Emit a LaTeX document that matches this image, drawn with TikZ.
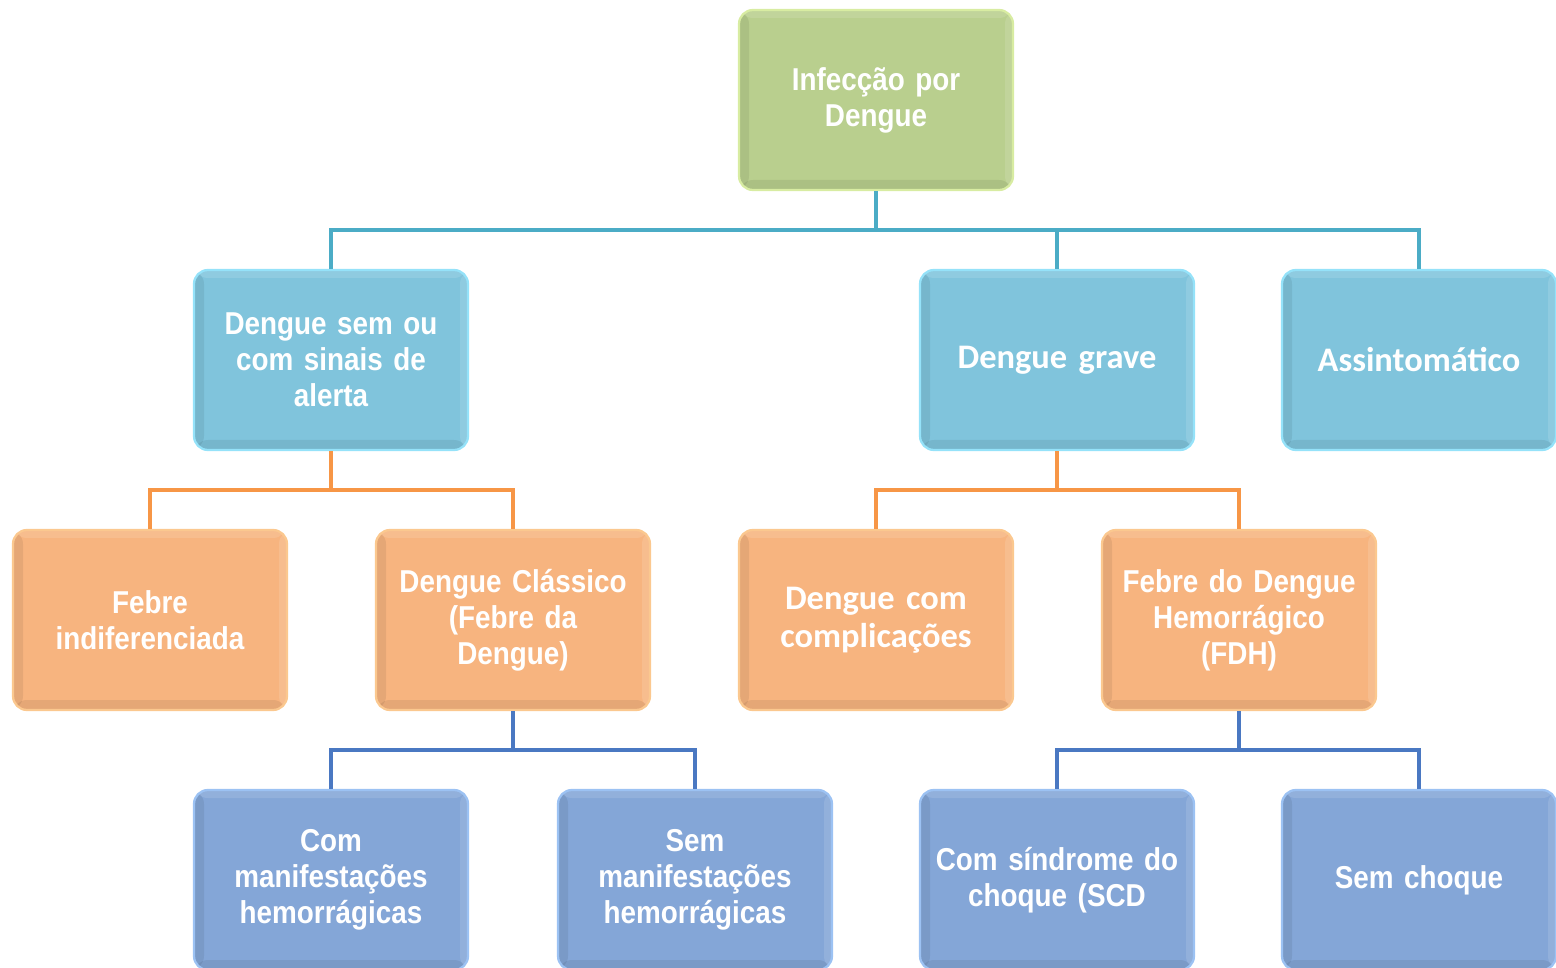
\documentclass[tikz,border=0pt]{standalone}
\usepackage{fontspec}
\newfontfamily\narrowfont[FakeStretch=0.88]{Liberation Sans Bold}
\newfontfamily\calfont{Carlito Bold}
\usepackage{xcolor}
\definecolor{DengueGreen}{HTML}{B9CF8E}
\definecolor{DengueGreenEdge}{HTML}{D8ECA2}
\definecolor{DengueSky}{HTML}{80C4DC}
\definecolor{DengueSkyEdge}{HTML}{95E2F9}
\definecolor{DengueOrange}{HTML}{F7B47F}
\definecolor{DengueOrangeEdge}{HTML}{FBC88F}
\definecolor{DengueBlue}{HTML}{84A6D7}
\definecolor{DengueBlueEdge}{HTML}{9CC2F3}
\definecolor{LineTeal}{HTML}{4BACC6}
\definecolor{LineOrange}{HTML}{F79646}
\definecolor{LineBlue}{HTML}{4A78C2}
\usepackage{tikz}
\usetikzlibrary{positioning}

\begin{document}
\begin{tikzpicture}[
  box/.style={rounded corners=3.5mm,line width=1.6pt,minimum width=6.85cm,minimum height=4.5cm,text width=6.4cm,align=center,text=white,font=\narrowfont\fontsize{22.5}{25.6}\selectfont,
    path picture={
      \fill[black,opacity=0.07] (path picture bounding box.south west) rectangle ([xshift=2.5mm]path picture bounding box.north west);
      \fill[black,opacity=0.07] (path picture bounding box.south west) rectangle ([yshift=2.5mm]path picture bounding box.south east);
      \fill[white,opacity=0.12] (path picture bounding box.north east) rectangle ([xshift=-2mm]path picture bounding box.south east);
      \fill[white,opacity=0.12] (path picture bounding box.north west) rectangle ([yshift=-2mm]path picture bounding box.north east);
    }},
  calbox/.style={box,font=\calfont\fontsize{24.5}{27}\selectfont},
  rootbox/.style={box,fill=DengueGreen,draw=DengueGreenEdge},
  skybox/.style={box,fill=DengueSky,draw=DengueSkyEdge},
  orangebox/.style={box,fill=DengueOrange,draw=DengueOrangeEdge},
  bluebox/.style={box,fill=DengueBlue,draw=DengueBlueEdge},
  link/.style={line width=2.8pt}
]
\useasboundingbox (0,0) rectangle (38.9,-24.2);
% nivel 0
\node[rootbox] (root) at (21.9,-2.5) {Infecção por\\Dengue};
% nivel 1
\node[skybox] (alerta) at (8.275,-9) {Dengue sem ou\\com sinais de\\alerta};
\node[skybox,calbox] (grave) at (26.425,-9) {Dengue grave};
\node[skybox,calbox] (assint) at (35.475,-9) {Assintomático};
% nivel 2
\node[orangebox] (febre) at (3.75,-15.5) {Febre\\indiferenciada};
\node[orangebox] (classico) at (12.825,-15.5) {Dengue Clássico\\(Febre da\\Dengue)};
\node[orangebox,calbox] (complic) at (21.9,-15.5) {Dengue com\\complicações};
\node[orangebox] (fdh) at (30.975,-15.5) {Febre do Dengue\\Hemorrágico\\(FDH)};
% nivel 3
\node[bluebox] (commanif) at (8.275,-22) {Com\\manifestações\\hemorrágicas};
\node[bluebox] (semmanif) at (17.375,-22) {Sem\\manifestações\\hemorrágicas};
\node[bluebox] (choque) at (26.425,-22) {Com síndrome do\\choque (SCD};
\node[bluebox] (semchoque) at (35.475,-22) {Sem choque};
% barramentos
\coordinate (rootbus) at (21.9,-5.75);
\coordinate (alertabus) at (8.275,-12.25);
\coordinate (gravebus) at (26.425,-12.25);
\coordinate (classicobus) at (12.825,-18.75);
\coordinate (fdhbus) at (30.975,-18.75);
\draw[link,LineTeal] (root.south) -- (rootbus);
\draw[link,LineTeal] (rootbus) -| (alerta.north);
\draw[link,LineTeal] (rootbus) -| (grave.north);
\draw[link,LineTeal] (rootbus) -| (assint.north);
\draw[link,LineOrange] (alerta.south) -- (alertabus);
\draw[link,LineOrange] (alertabus) -| (febre.north);
\draw[link,LineOrange] (alertabus) -| (classico.north);
\draw[link,LineOrange] (grave.south) -- (gravebus);
\draw[link,LineOrange] (gravebus) -| (complic.north);
\draw[link,LineOrange] (gravebus) -| (fdh.north);
\draw[link,LineBlue] (classico.south) -- (classicobus);
\draw[link,LineBlue] (classicobus) -| (commanif.north);
\draw[link,LineBlue] (classicobus) -| (semmanif.north);
\draw[link,LineBlue] (fdh.south) -- (fdhbus);
\draw[link,LineBlue] (fdhbus) -| (choque.north);
\draw[link,LineBlue] (fdhbus) -| (semchoque.north);
\end{tikzpicture}
\end{document}
